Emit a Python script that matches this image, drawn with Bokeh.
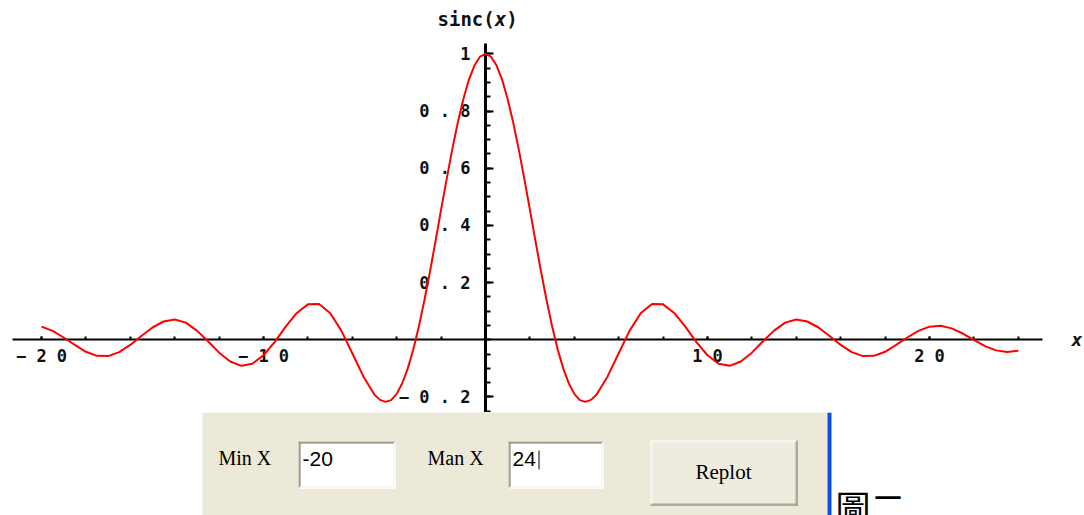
from bokeh.plotting import figure
from bokeh.models import Range1d, FixedTicker, Label
from bokeh.layouts import column
from bokeh.embed import file_html
from bokeh.resources import INLINE
from bokeh.core.properties import value

# ---------------- data ----------------
X = [-20, -19.5, -19, -18.5, -18, -17.5, -17, -16.5, -16, -15.5, -15, -14.5,
     -14, -13.5, -13, -12.5, -12, -11.5, -11, -10.5, -10, -9.5, -9, -8.5, -8,
     -7.5, -7, -6.5, -6, -5.5, -5, -4.75, -4.5, -4.25, -4, -3.75, -3.5, -3.25,
     -3, -2.75, -2.5, -2.25, -2, -1.75, -1.5, -1.25, -1, -0.75, -0.5, -0.25,
     0, 0.25, 0.5, 0.75, 1, 1.25, 1.5, 1.75, 2, 2.25, 2.5, 2.75, 3, 3.25, 3.5,
     3.75, 4, 4.25, 4.5, 4.75, 5, 5.5, 6, 6.5, 7, 7.5, 8, 8.5, 9, 9.5, 10,
     10.5, 11, 11.5, 12, 12.5, 13, 13.5, 14, 14.5, 15, 15.5, 16, 16.5, 17,
     17.5, 18, 18.5, 19, 19.5, 20, 20.5, 21, 21.5, 22, 22.5, 23, 23.5, 24]
Y = [0.046, 0.031, 0.008, -0.018, -0.042, -0.056, -0.057, -0.043, -0.018,
     0.013, 0.043, 0.064, 0.071, 0.060, 0.032, -0.005, -0.045, -0.076, -0.091,
     -0.084, -0.054, -0.008, 0.046, 0.094, 0.124, 0.125, 0.094, 0.033, -0.047,
     -0.128, -0.192, -0.210, -0.217, -0.211, -0.189, -0.152, -0.100, -0.033,
     0.047, 0.139, 0.239, 0.346, 0.455, 0.562, 0.665, 0.759, 0.841, 0.909,
     0.959, 0.990,
     1.000, 0.990, 0.959, 0.909, 0.841, 0.759, 0.665, 0.562, 0.455, 0.346,
     0.239, 0.139, 0.047, -0.033, -0.100, -0.152, -0.189, -0.211, -0.217,
     -0.210, -0.192, -0.128, -0.047, 0.033, 0.094, 0.125, 0.124, 0.094, 0.046,
     -0.008, -0.054, -0.084, -0.091, -0.076, -0.045, -0.005, 0.032, 0.060,
     0.071, 0.064, 0.043, 0.013, -0.018, -0.043, -0.057, -0.056, -0.042,
     -0.018, 0.008, 0.031, 0.046, 0.049, 0.040, 0.022, 0.000, -0.022, -0.037,
     -0.043, -0.038]

X_MAJOR_TICKS = [-20, -10, 10, 20]
X_TICK_LABELS = ["− 2 0", "− 1 0", "1 0", "2 0"]
X_MINOR_TICKS = [-20, -18, -16, -14, -12, -10, -8, -6, -4, -2, 0, 2, 4, 6, 8,
                 10, 12, 14, 16, 18, 20, 22, 24]
Y_MAJOR_TICKS = [-0.2, 0.2, 0.4, 0.6, 0.8, 1]
Y_TICK_LABELS = ["− 0 . 2", "0 . 2", "0 . 4", "0 . 6", "0 . 8", "1"]
Y_MINOR_TICKS = [-0.25, -0.2, -0.15, -0.1, -0.05, 0, 0.05, 0.1, 0.15, 0.2,
                 0.25, 0.3, 0.35, 0.4, 0.45, 0.5, 0.55, 0.6, 0.65, 0.7, 0.75,
                 0.8, 0.85, 0.9, 0.95, 1]

Y_TITLE = "sinc("
Y_TITLE_VAR = "x"
X_TITLE = "x"

MIN_LABEL = "Min X"
MAX_LABEL = "Man X"
MIN_VALUE = "-20"
MAX_VALUE = "24"
BUTTON_TEXT = "Replot"
CAPTION = "圖二"

# ---------------- plot ----------------
W = 1084
H_TOP = 412
H_BOT = 103

p = figure(width=W, height=H_TOP,
           x_range=Range1d(-21.847, 26.982), y_range=Range1d(-0.2542, 1.1864),
           output_backend="svg", toolbar_location=None, min_border=0,
           outline_line_color=None, background_fill_color="white",
           border_fill_color="white")
p.grid.visible = False

xa = p.xaxis[0]
ya = p.yaxis[0]
xa.fixed_location = 0
ya.fixed_location = 0
xa.ticker = FixedTicker(ticks=X_MAJOR_TICKS, minor_ticks=X_MINOR_TICKS)
ya.ticker = FixedTicker(ticks=Y_MAJOR_TICKS, minor_ticks=Y_MINOR_TICKS)
xa.major_label_overrides = dict(zip(X_MAJOR_TICKS, X_TICK_LABELS))
ya.major_label_overrides = dict(zip(Y_MAJOR_TICKS, Y_TICK_LABELS))

for ax in (xa, ya):
    ax.axis_line_color = "black"
    ax.major_tick_line_color = "black"
    ax.minor_tick_line_color = "black"
    ax.major_tick_line_width = 2
    ax.minor_tick_line_width = 2
    ax.major_tick_out = 0
    ax.minor_tick_out = 0
    ax.major_label_text_font = "DejaVu Sans Mono"
    ax.major_label_text_font_style = "bold"
    ax.major_label_text_font_size = "17px"
    ax.major_label_text_color = "#111111"

xa.axis_line_width = 2
xa.major_tick_in = 3
xa.minor_tick_in = 3
xa.major_label_standoff = 6
xa.bounds = (-21.3, 25.09)

ya.axis_line_width = 3
ya.major_tick_in = 8
ya.minor_tick_in = 5
ya.major_label_standoff = 15
ya.bounds = (-0.3, 1.036)

curve = p.line(X, Y, line_color="#FF0000", line_width=2)
curve.level = "overlay"

fs = 19
adv = 0.602 * fs
ty = 1.16
p.add_layout(Label(x=0, y=ty, x_offset=-48, text=Y_TITLE,
                   text_font="DejaVu Sans Mono", text_font_style="bold",
                   text_font_size=f"{fs}px", text_baseline="top",
                   text_align="left", text_color="#111111"))
p.add_layout(Label(x=0, y=ty, x_offset=-48 + 5 * adv, text=Y_TITLE_VAR,
                   text_font="DejaVu Sans Mono", text_font_style="bold italic",
                   text_font_size=f"{fs}px", text_baseline="top",
                   text_align="left", text_color="#111111"))
p.add_layout(Label(x=0, y=ty, x_offset=-48 + 6 * adv, text=")",
                   text_font="DejaVu Sans Mono", text_font_style="bold",
                   text_font_size=f"{fs}px", text_baseline="top",
                   text_align="left", text_color="#111111"))
p.add_layout(Label(x=26.4, y=0, text=X_TITLE,
                   text_font="DejaVu Sans Mono", text_font_style="bold italic",
                   text_font_size="18px", text_baseline="middle",
                   text_align="left", text_color="#111111"))

# ---------------- form panel (pixel coordinates of the page) ----------------
q = figure(width=W, height=H_BOT,
           x_range=Range1d(0, W), y_range=Range1d(412 + H_BOT, 412),
           output_backend="svg", toolbar_location=None, min_border=0,
           outline_line_color=None, x_axis_type=None, y_axis_type=None,
           background_fill_color="white", border_fill_color="white")
q.grid.visible = False

BEIGE = "#ECE9D8"
q.quad(left=[202], right=[827], top=[412], bottom=[600],
       fill_color=BEIGE, line_color=None)
q.quad(left=[827], right=[831], top=[412], bottom=[600],
       fill_color="#0B4EE6", line_color=None)


def bevel(fig, l, r, t, b, face, tl_out, tl_in, br_out, br_in):
    fig.quad(left=[l], right=[r], top=[t], bottom=[b],
             fill_color=face, line_color=None)
    lefts = [l, l, l + 1, l + 1, l, r - 1, l + 1, r - 2]
    rights = [r, l + 1, r - 1, l + 2, r, r, r - 1, r - 1]
    tops = [t, t, t + 1, t + 1, b - 1, t, b - 2, t + 1]
    bottoms = [t + 1, b, t + 2, b - 1, b, b, b - 1, b - 1]
    colors = [tl_out, tl_out, tl_in, tl_in, br_out, br_out, br_in, br_in]
    fig.quad(left=lefts, right=rights, top=tops, bottom=bottoms,
             fill_color=colors, line_color=None)


bevel(q, 298, 395, 441, 488, "white", "#ACA899", "#716F64", "#FFFFFF", "#F1EFE2")
bevel(q, 508, 603, 441, 488, "white", "#ACA899", "#716F64", "#FFFFFF", "#F1EFE2")
bevel(q, 650, 797, 440, 505, "#EEEBDF", "#FFFFFF", "#F7F6F1", "#716F64", "#ACA899")

serif = value("Liberation Serif")
sans = value("Liberation Sans")
q.text(x=[218, 427], y=[457, 457], text=[MIN_LABEL, MAX_LABEL],
       text_font=serif, text_font_size="20px", text_color="black",
       text_baseline="alphabetic", text_align="left")
q.text(x=[302, 512], y=[458, 458], text=[MIN_VALUE, MAX_VALUE],
       text_font=sans, text_font_size="21px", text_color="black",
       text_baseline="alphabetic", text_align="left")
q.segment(x0=[538.5], y0=[450], x1=[538.5], y1=[469],
          line_color="black", line_width=1)
q.text(x=[723], y=[471], text=[BUTTON_TEXT],
       text_font=serif, text_font_size="21px", text_color="black",
       text_baseline="alphabetic", text_align="center")
q.text(x=[835], y=[505], text=[CAPTION],
       text_font=value("Noto Sans CJK TC"), text_font_size="35px",
       text_color="black", text_baseline="alphabetic", text_align="left")

layout = column(p, q, spacing=0)
open("out.html", "w").write(file_html(layout, INLINE))
